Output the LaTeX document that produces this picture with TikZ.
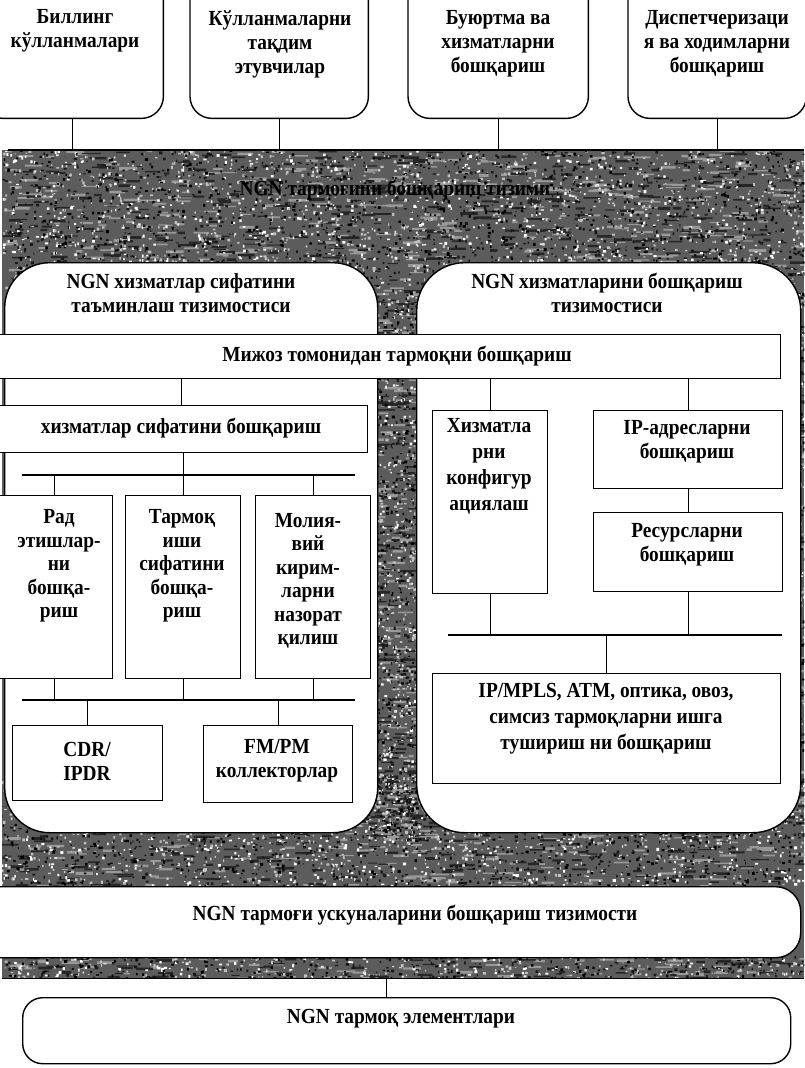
\documentclass[tikz,border=0pt]{standalone}
\usepackage{fontspec}
\setmainfont{Liberation Serif}[FakeStretch=0.9]
% grain: one filled path of many small random squares of one grey level
\newcommand\grain[6]{% left, top, width, height, count, level
  \fill[black!#6] \foreach \k in {1,...,#5}{
    ({#1+(#3)*rnd},{#2+(#4)*rnd}) rectangle +({1+2.2*rnd},{1+2*rnd}) };}
% streaks: one filled path of short horizontal dashes of one grey level
\newcommand\streaks[6]{%
  \fill[black!#6] \foreach \k in {1,...,#5}{
    ({#1+(#3)*rnd},{#2+(#4)*rnd}) rectangle +({5+14*rnd},{1+1.8*rnd}) };}
\newcommand\texturearea[5]{% left, top, width, height, density factor
  \pgfmathtruncatemacro{\na}{#5*60}%
  \pgfmathtruncatemacro{\nb}{#5*140}%
  \streaks{#1}{#2}{#3}{#4}{\na}{40}
  \streaks{#1}{#2}{#3}{#4}{\na}{85}
  \grain{#1}{#2}{#3}{#4}{\nb}{0}
  \grain{#1}{#2}{#3}{#4}{\nb}{25}
  \grain{#1}{#2}{#3}{#4}{\nb}{90}
  \grain{#1}{#2}{#3}{#4}{\nb}{100}}
\begin{document}
\begin{tikzpicture}[x=1pt,y=-1pt,
  wire/.style={line width=1.4pt},
  frame/.style={draw, fill=white, line width=1.4pt, inner sep=0pt, anchor=north west},
  ghost/.style={inner sep=0pt, anchor=north west},
  lbl/.style={font=\fontsize{21.5}{24}\selectfont\bfseries, align=center, inner sep=0pt},
  tall/.style={font=\fontsize{21.5}{23.5}\selectfont\bfseries, align=center, inner sep=0pt}]
\useasboundingbox (0,0) rectangle (804,1068);

% textured management band
\node[ghost, fill=black!64, minimum width=802, minimum height=828] (band) at (2,150) {};
\begin{scope}
\clip (band.north west) rectangle (band.south east);
\pgfmathsetseed{1234}
\texturearea{2}{150}{802}{160}{7}
\texturearea{368}{300}{58}{540}{2.5}
\texturearea{790}{290}{14}{520}{0.4}
\texturearea{0}{778}{804}{108}{5}
\texturearea{0}{955}{804}{23}{1.2}
\end{scope}
\draw[line width=2pt] ([xshift=6pt]band.north west) -- (band.north east);
\draw[wire] (band.south west) -- (band.south east);
\node[lbl] (bandtxt) at (395,190) {NGN тармоғини бошқариш тизими};

% top application boxes, open at the top
\node[ghost, minimum width=182, minimum height=128] (tA) at (-19,-10) {};
\node[ghost, minimum width=178, minimum height=128] (tB) at (190,-10) {};
\node[ghost, minimum width=180, minimum height=128] (tC) at (408,-10) {};
\node[ghost, minimum width=178, minimum height=128] (tD) at (628,-10) {};
\foreach \b in {tA,tB,tC,tD}{
  \draw[wire, rounded corners=22pt] (\b.north west) -- (\b.south west) -- (\b.south east) -- (\b.north east);
  \draw[wire] (\b.south) -- (\b.south |- band.north);
}
\node[lbl] (tAl) at (75,31) {Биллинг\\кўлланмалари};
\node[lbl] (tBl) at (280,44) {Кўлланмаларни\\тақдим\\этувчилар};
\node[lbl] (tCl) at (498,44) {Буюртма ва\\хизматларни\\бошқариш};
\node[lbl] (tDl) at (717,44) {Диспетчеризаци\\я ва ходимларни\\бошқариш};

% two management subsystems
\node[frame, rounded corners=45pt, minimum width=373, minimum height=570] (lsys) at (4,262) {};
\node[frame, rounded corners=48pt, minimum width=384, minimum height=570] (rsys) at (416,262) {};
\node[lbl] (lsysl) at (181,293) {NGN хизматлар сифатини\\таъминлаш тизимостиси};
\node[lbl] (rsysl) at (607,293) {NGN хизматларини бошқариш\\тизимостиси};

% customer-side network management bar
\node[frame, minimum width=785, minimum height=44] (bar) at (-5,334) {};
\node[lbl] (barl) at (397,356) {Мижоз томонидан тармоқни бошқариш};

% left subsystem contents
\node[frame, minimum width=372, minimum height=47] (qos) at (-5,405) {};
\node[lbl] at (181,428) {хизматлар сифатини бошқариш};
\node[frame, minimum width=117, minimum height=183] (rad) at (-5,495) {};
\node[frame, minimum width=115, minimum height=183] (tarm) at (125,495) {};
\node[frame, minimum width=115, minimum height=183] (mol) at (255,495) {};
\node[tall] at (59,566) {Рад\\этишлар-\\ни\\бошқа-\\риш};
\node[tall] at (182,566) {Тармоқ\\иши\\сифатини\\бошқа-\\риш};
\node[tall] at (308,581) {Молия-\\вий\\кирим-\\ларни\\назорат\\қилиш};
\node[frame, minimum width=150, minimum height=75] (cdr) at (12,725) {};
\node[frame, minimum width=149, minimum height=77] (fmpm) at (203,725) {};
\node[lbl] at (87,761) {CDR/\\IPDR};
\node[lbl] at (277,761) {FM/PM\\коллекторлар};
\coordinate (busAl) at (22,475);
\coordinate (busAr) at (355,475);
\coordinate (busBl) at (22,700);
\coordinate (busBr) at (355,700);
\draw[wire] (busAl) -- (busAr);
\draw[wire] (busBl) -- (busBr);
\draw[wire] (qos.north) -- (qos.north |- bar.south);
\draw[wire] (qos.south -| tarm.north) -- (tarm.north);
\draw[wire] (rad.north) -- (rad.north |- busAl);
\draw[wire] (mol.north) -- (mol.north |- busAl);
\foreach \b in {rad,tarm,mol}{\draw[wire] (\b.south) -- (\b.south |- busBl);}
\draw[wire] (cdr.north) -- (cdr.north |- busBl);
\draw[wire] (fmpm.north) -- (fmpm.north |- busBl);

% right subsystem contents
\node[frame, minimum width=115, minimum height=183] (conf) at (432,410) {};
\node[frame, minimum width=189, minimum height=78] (ipadr) at (593,410) {};
\node[frame, minimum width=189, minimum height=79] (res) at (593,512) {};
\node[frame, minimum width=348, minimum height=110] (ipmpls) at (432,673) {};
\node[tall, font=\fontsize{21.5}{26}\selectfont\bfseries] at (489,466) {Хизматла\\рни\\конфигур\\ациялаш};
\node[lbl] at (687,442) {IP-адресларни\\бошқариш};
\node[lbl] at (687,545) {Ресурсларни\\бошқариш};
\node[lbl, font=\fontsize{21.5}{26}\selectfont\bfseries] at (606,719) {IP/MPLS, ATM, оптика, овоз,\\симсиз тармоқларни ишга\\тушириш ни бошқариш};
\coordinate (busCl) at (448,635);
\coordinate (busCr) at (782,635);
\draw[wire] (busCl) -- (busCr);
\draw[wire] (conf.north) -- (conf.north |- bar.south);
\draw[wire] (ipadr.north) -- (ipadr.north |- bar.south);
\draw[wire] (ipadr.south) -- (res.north);
\draw[wire] (conf.south) -- (conf.south |- busCl);
\draw[wire] (res.south) -- (res.south |- busCl);
\draw[wire] (ipmpls.north) -- (ipmpls.north |- busCl);

% equipment management and network elements
\node[frame, rounded corners=25pt, minimum width=830, minimum height=71] (nband) at (-30,886) {};
\node[lbl] at (415,915) {NGN тармоғи ускуналарини бошқариш тизимости};
\node[frame, rounded corners=20pt, minimum width=768, minimum height=66] (ne) at (22,997) {};
\node[lbl] at (401,1019) {NGN тармоқ элементлари};
\draw[wire] ([xshift=-20pt]ne.north) -- ([xshift=-20pt]ne.north |- band.south);
\end{tikzpicture}
\end{document}
